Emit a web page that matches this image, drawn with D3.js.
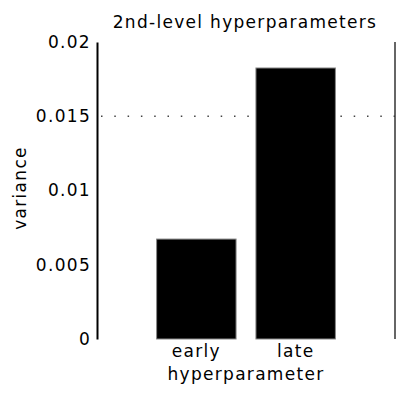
<!DOCTYPE html>
<html><head><meta charset="utf-8">
<script src="https://cdn.jsdelivr.net/npm/d3@7"></script>
<style>body{margin:0;background:#fff}svg{display:block}text{font-family:"DejaVu Sans",sans-serif;letter-spacing:1.3px}</style>
</head><body>
<script>
const categories = ["early", "late"];
const values = [0.00673, 0.01825];
const yTicks = [0, 0.005, 0.01, 0.015, 0.02];
const yTickLabels = ["0", "0.005", "0.01", "0.015", "0.02"];
const refLine = 0.015;
const title = "2nd-level hyperparameters";
const xTitle = "hyperparameter";
const yTitle = "variance";

const W = 398, H = 399, FS = 17;
const svg = d3.select("body").append("svg").attr("width", W).attr("height", H);
const x = d3.scaleLinear().domain([0, categories.length + 1]).range([97, 395]);
const y = d3.scaleLinear().domain([0, 0.02]).range([339, 42]);
const bw = (x(1) - x(0)) * 0.8;

// reference dotted line
svg.append("line").attr("x1", x(0) + 4).attr("x2", x(3)).attr("y1", y(refLine)).attr("y2", y(refLine))
  .attr("stroke", "#444").attr("stroke-width", 1.5).attr("stroke-dasharray", "1.5,11.8");

// bars
svg.selectAll("rect.bar").data(values).join("rect").attr("class", "bar")
  .attr("x", (d, i) => x(i + 1) - bw / 2).attr("width", bw)
  .attr("y", d => y(d)).attr("height", d => y(0) - y(d))
  .attr("fill", "#000").attr("stroke", "#888").attr("stroke-width", 1);

// left axis
const yAxis = d3.axisLeft(y).tickValues(yTicks).tickFormat((d, i) => yTickLabels[i]).tickSize(0).tickSizeOuter(0).tickPadding(6);
const ga = svg.append("g").attr("transform", `translate(${x(0)},0)`).call(yAxis);
ga.select(".domain").attr("stroke", "#000").attr("stroke-width", 2);
ga.selectAll("text").attr("font-size", FS).attr("fill", "#000").attr("font-family", "DejaVu Sans");

// right border
svg.append("line").attr("x1", x(3)).attr("x2", x(3)).attr("y1", y(0.02)).attr("y2", y(0))
  .attr("stroke", "#333").attr("stroke-width", 1.5);

// x labels
svg.selectAll("text.xl").data(categories).join("text").attr("class", "xl")
  .attr("x", (d, i) => x(i + 1)).attr("y", 357).attr("text-anchor", "middle")
  .attr("font-size", FS).text(d => d);
svg.append("text").attr("x", (x(1) + x(2)) / 2).attr("y", 380).attr("text-anchor", "middle")
  .attr("font-size", FS).text(xTitle);
svg.append("text").attr("x", 245).attr("y", 28).attr("text-anchor", "middle")
  .attr("font-size", FS).text(title);
svg.append("text").attr("transform", "translate(26,188) rotate(-90)").attr("text-anchor", "middle")
  .attr("font-size", FS).text(yTitle);
</script>
</body></html>
